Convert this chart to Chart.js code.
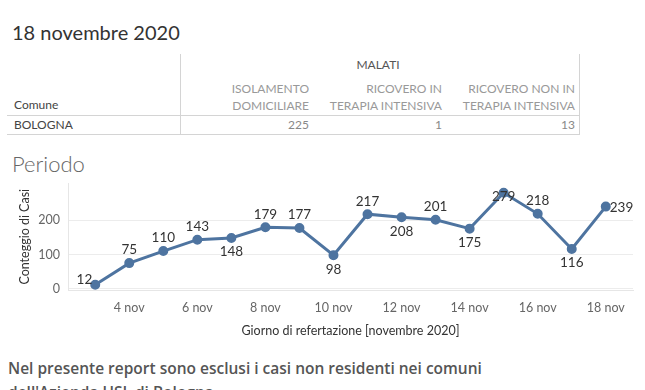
<!DOCTYPE html>
<html>
<head>
<meta charset="utf-8">
<script src="https://cdn.jsdelivr.net/npm/chart.js@4"></script>
<style>
  body { margin: 0; width: 645px; height: 390px; overflow: hidden; background: #fff; font-family: Lato, "Open Sans", sans-serif; position: relative; }
  .t { position: absolute; white-space: nowrap; }
  .hd { color: #999; font-size: 12px; text-align: right; line-height: 17px; }
  .ln { position: absolute; background: #d4d4d4; }
</style>
</head>
<body>
<div class="t" style="left:12px;top:20px;font-size:20px;color:#333;">18 novembre 2020</div>

<div class="ln" style="left:180px;top:54px;width:1px;height:80px;"></div>
<div class="ln" style="left:579px;top:54px;width:1px;height:80px;"></div>
<div class="ln" style="left:7px;top:115px;width:573px;height:1px;"></div>
<div class="ln" style="left:7px;top:134px;width:573px;height:1px;"></div>
<div class="t" style="left:338px;top:57px;width:80px;text-align:center;font-size:12px;color:#555;">MALATI</div>
<div class="t" style="left:14px;top:97px;font-size:12px;color:#444;">Comune</div>
<div class="t hd" style="right:336px;top:80px;">ISOLAMENTO<br>DOMICILIARE</div>
<div class="t hd" style="right:203px;top:80px;">RICOVERO IN<br>TERAPIA INTENSIVA</div>
<div class="t hd" style="right:70px;top:80px;">RICOVERO NON IN<br>TERAPIA INTENSIVA</div>
<div class="t" style="left:14px;top:117px;font-size:12px;color:#444;">BOLOGNA</div>
<div class="t" style="right:336px;top:117px;font-size:12px;color:#888;" id="v0"></div>
<div class="t" style="right:203px;top:117px;font-size:12px;color:#888;" id="v1"></div>
<div class="t" style="right:70px;top:117px;font-size:12px;color:#888;" id="v2"></div>

<div class="t" style="left:12px;top:150px;font-size:22px;font-weight:300;color:#666;">Periodo</div>

<div style="position:absolute;left:0;top:168px;width:645px;height:172px;">
  <canvas id="myChart"></canvas>
</div>

<div class="t" style="left:8px;top:356px;font-family:'Open Sans',sans-serif;font-size:15.5px;font-weight:600;color:#555;line-height:24px;">Nel presente report sono esclusi i casi non residenti nei comuni<br>dell'Azienda USL di Bologna</div>

<script>
let table_vals = [225, 1, 13]
let days = [3, 4, 5, 6, 7, 8, 9, 10, 11, 12, 13, 14, 15, 16, 17, 18]
let cases = [12, 75, 110, 143, 148, 179, 177, 98, 217, 208, 201, 175, 279, 218, 116, 239]
let x_ticks = [4, 6, 8, 10, 12, 14, 16, 18]
let y_ticks = [0, 100, 200]

for (let i = 0; i < table_vals.length; i++) {
    document.getElementById('v' + i).textContent = table_vals[i]
}

// where each value label sits relative to its point
let label_pos = ['left', 'above', 'above', 'above', 'below', 'above', 'above', 'below',
    'above', 'below', 'above', 'below', 'center', 'above', 'below', 'right']

let valueLabels = {
    id: 'valueLabels',
    afterDatasetsDraw(chart) {
        let ctx = chart.ctx
        let pts = chart.getDatasetMeta(0).data
        ctx.save()
        ctx.font = '13.5px Lato, "Open Sans", sans-serif'
        ctx.fillStyle = '#333'
        ctx.textBaseline = 'middle'
        for (let i = 0; i < pts.length; i++) {
            let p = pts[i]
            let txt = String(cases[i])
            let x = p.x, y = p.y
            ctx.textAlign = 'center'
            if (label_pos[i] === 'above') y -= 13
            else if (label_pos[i] === 'below') y += 14
            else if (label_pos[i] === 'center') y += 4
            else if (label_pos[i] === 'left') { ctx.textAlign = 'right'; x -= 3; y -= 5 }
            else if (label_pos[i] === 'right') { ctx.textAlign = 'left'; x += 4; y += 1 }
            ctx.fillText(txt, x, y)
        }
        ctx.restore()
    }
}

let ctx = document.getElementById('myChart').getContext('2d')

let myChart = new Chart(ctx, {
    type: 'line',
    data: {
        datasets: [{
            data: days.map((d, i) => ({ x: d, y: cases[i] })),
            borderColor: '#4e74a0',
            backgroundColor: '#4e74a0',
            borderWidth: 3,
            pointRadius: 3.5,
            pointHoverRadius: 3.5,
            tension: 0
        }]
    },
    options: {
        responsive: true,
        maintainAspectRatio: false,
        animation: false,
        layout: { padding: { top: 5, right: 12, left: 0, bottom: 0 } },
        plugins: { legend: { display: false }, tooltip: { enabled: false } },
        scales: {
            x: {
                type: 'linear',
                min: 2.2,
                max: 18.8,
                afterBuildTicks: (s) => { s.ticks = x_ticks.map(v => ({ value: v })) },
                afterFit: (s) => { s.height = 50 },
                grid: { display: false, drawTicks: false },
                border: { color: '#e6e6e6' },
                ticks: {
                    padding: 10,
                    maxRotation: 0,
                    color: '#666',
                    font: { family: 'Lato, "Open Sans", sans-serif', size: 12.5 },
                    callback: (v) => v + ' nov'
                },
                title: {
                    display: true,
                    text: 'Giorno di refertazione [novembre 2020]',
                    color: '#333',
                    font: { family: 'Lato, "Open Sans", sans-serif', size: 12.5 },
                    padding: { top: 0, bottom: 2 }
                }
            },
            y: {
                min: -3,
                max: 306,
                afterBuildTicks: (s) => { s.ticks = y_ticks.map(v => ({ value: v })) },
                afterFit: (s) => { s.width = 68 },
                grid: { color: '#ececec', drawTicks: false },
                border: { color: '#e6e6e6' },
                ticks: {
                    padding: 8,
                    color: '#666',
                    font: { family: 'Lato, "Open Sans", sans-serif', size: 12.5 }
                },
                title: {
                    display: true,
                    text: 'Conteggio di Casi',
                    color: '#333',
                    font: { family: 'Lato, "Open Sans", sans-serif', size: 12.5 },
                    padding: { top: 17, bottom: 0 }
                }
            }
        }
    },
    plugins: [valueLabels]
})
</script>
</body>
</html>
